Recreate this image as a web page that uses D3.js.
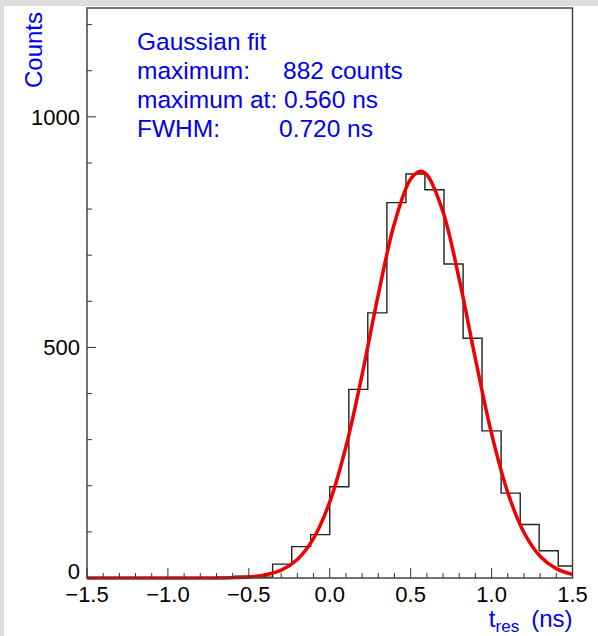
<!DOCTYPE html>
<html>
<head>
<meta charset="utf-8">
<script src="https://cdn.jsdelivr.net/npm/d3@7"></script>
<style>
  body { margin: 0; background: #fff; }
  text { font-family: "Liberation Sans", Arial, sans-serif; }
</style>
</head>
<body>
<div id="chart-area"></div>
<script>
// histogram bins (lower edges, ns) and counts
var binEdges = [-1.5, -0.706, -0.588, -0.471, -0.353, -0.235, -0.118, 0.0, 0.118, 0.235, 0.353,
    0.471, 0.588, 0.706, 0.824, 0.941, 1.059, 1.177, 1.294, 1.412, 1.53];
var binCounts = [0, 2, 4, 2, 30, 68, 94, 198, 409, 575, 814,
    876, 842, 681, 520, 319, 184, 116, 59, 26];

// gaussian fit curve, sampled points
var fitX = [-1.5, -1.0, -0.8, -0.7, -0.6, -0.5, -0.4, -0.3, -0.2, -0.1, 0.0, 0.1, 0.2, 0.3, 0.4,
    0.5, 0.56, 0.6, 0.7, 0.8, 0.9, 1.0, 1.1, 1.2, 1.3, 1.4, 1.5];
var fitY = [0, 0, 0.05, 0.2, 0.7, 2.2, 6.4, 16.9, 40.2, 85.9, 164.9, 284.5, 441, 614.5, 769,
    865, 882, 874.5, 794, 648, 475.4, 313, 185.5, 98.7, 47.2, 20.3, 7.8];

var xTicks = [-1.5, -1.0, -0.5, 0.0, 0.5, 1.0, 1.5];
var yTicks = [0, 500, 1000];

var legendLabels = ["Gaussian fit", "maximum:", "maximum at: 0.560 ns", "FWHM:"];
var legendValues = ["", "882 counts", "", "0.720 ns"];

var W = 598, H = 636;
var margin = { top: 8, right: 25.5, bottom: 58, left: 87 };
var width = W - margin.left - margin.right;
var height = H - margin.top - margin.bottom;

var svg = d3.select("#chart-area").append("svg")
    .attr("width", W)
    .attr("height", H);

// grey canvas edge like the original screenshot
svg.append("rect").attr("width", W).attr("height", H).attr("fill", "#dddddd");
svg.append("rect").attr("x", 4).attr("y", 6).attr("width", W - 4).attr("height", H - 6).attr("fill", "#fff");

var g = svg.append("g")
    .attr("transform", "translate(" + margin.left + "," + margin.top + ")");

var x = d3.scaleLinear().domain([-1.5, 1.5]).range([0, width]);
var y = d3.scaleLinear().domain([0, 1236]).range([height, 0]);

g.append("clipPath").attr("id", "frame-clip")
    .append("rect").attr("width", width).attr("height", height);

// histogram outline
var steps = [];
binCounts.forEach(function (c, i) {
    steps.push([binEdges[i], c]);
    steps.push([binEdges[i + 1], c]);
});
g.append("path")
    .datum(steps)
    .attr("clip-path", "url(#frame-clip)")
    .attr("fill", "none")
    .attr("stroke", "#222")
    .attr("stroke-width", 1.4)
    .attr("d", d3.line()
        .x(function (d) { return x(d[0]); })
        .y(function (d) { return y(d[1]); })
    );

// fit curve
g.append("path")
    .datum(fitX.map(function (v, i) { return [v, fitY[i]]; }))
    .attr("fill", "none")
    .attr("stroke", "#f00000")
    .attr("stroke-width", 3.5)
    .attr("d", d3.line()
        .curve(d3.curveCatmullRom)
        .x(function (d) { return x(d[0]); })
        .y(function (d) { return y(d[1]); })
    );

// frame
g.append("rect")
    .attr("width", width).attr("height", height)
    .attr("fill", "none")
    .attr("stroke", "#444")
    .attr("stroke-width", 1.5);

// x axis ticks (inside)
var xMinor = d3.range(-15, 16).map(function (k) { return k / 10; });
g.selectAll(".x-tick")
    .data(xMinor)
    .enter().append("line")
    .attr("x1", function (d) { return x(d); })
    .attr("x2", function (d) { return x(d); })
    .attr("y1", height)
    .attr("y2", function (d, i) { return i % 5 == 0 ? height - 10 : height - 5; })
    .attr("stroke", "#333")
    .attr("stroke-width", 1);

g.selectAll(".x-label")
    .data(xTicks)
    .enter().append("text")
    .attr("x", function (d) { return x(d); })
    .attr("y", height + 24)
    .attr("text-anchor", "middle")
    .attr("font-size", 22)
    .attr("fill", "#000")
    .text(function (d) { return d3.format(".1f")(d).replace("-", "\u2212"); });

// y axis ticks
var yMinor = d3.range(0, 1201, 100);
g.selectAll(".y-tick")
    .data(yMinor)
    .enter().append("line")
    .attr("x1", 0)
    .attr("x2", function (d) { return d % 500 == 0 ? 9 : 5; })
    .attr("y1", function (d) { return y(d); })
    .attr("y2", function (d) { return y(d); })
    .attr("stroke", "#333")
    .attr("stroke-width", 1);

g.selectAll(".y-label")
    .data(yTicks)
    .enter().append("text")
    .attr("x", -7)
    .attr("y", function (d) { return d == 0 ? y(d) - 7 : y(d); })
    .attr("dy", "0.36em")
    .attr("text-anchor", "end")
    .attr("font-size", 22)
    .attr("fill", "#000")
    .text(function (d) { return d; });

// axis titles
svg.append("text")
    .attr("transform", "translate(42,12) rotate(-90)")
    .attr("text-anchor", "end")
    .attr("font-size", 24)
    .attr("fill", "#0000ee")
    .text("Counts");

var xTitle = svg.append("text")
    .attr("x", margin.left + width)
    .attr("y", 627)
    .attr("text-anchor", "end")
    .attr("font-size", 24)
    .attr("fill", "#0000ee");
xTitle.append("tspan").text("t");
xTitle.append("tspan").attr("font-size", 17).attr("dy", 5).text("res");
xTitle.append("tspan").attr("dy", -5).text("\u2002(ns)");

// fit results text
var legendY = [50, 79, 108, 137];
svg.selectAll(".legend-label")
    .data(legendLabels)
    .enter().append("text")
    .attr("x", 137)
    .attr("y", function (d, i) { return legendY[i]; })
    .attr("font-size", 24.5)
    .attr("fill", "#0000ee")
    .text(function (d) { return d; });

svg.selectAll(".legend-value")
    .data(legendValues)
    .enter().append("text")
    .attr("x", function (d, i) { return i == 1 ? 283 : 279; })
    .attr("y", function (d, i) { return legendY[i]; })
    .attr("font-size", 24.5)
    .attr("fill", "#0000ee")
    .text(function (d) { return d; });
</script>
</body>
</html>
